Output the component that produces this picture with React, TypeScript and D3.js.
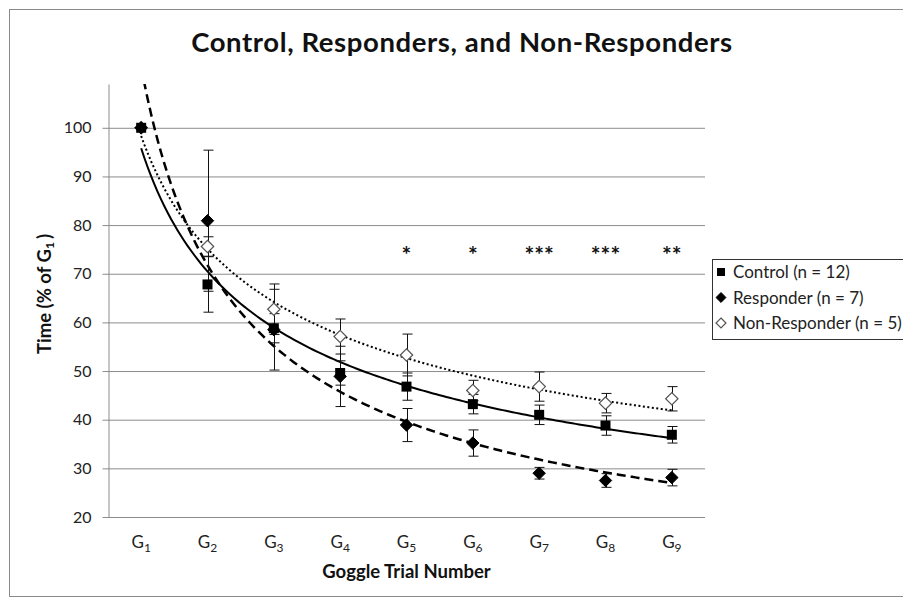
import React, { useEffect, useRef } from 'react';
import * as d3 from 'd3';

// goggle trials G1..G9
const trials = ['1', '2', '3', '4', '5', '6', '7', '8', '9'];
const controlMean = [100, 67.8, 58.8, 49.6, 46.8, 43.2, 41.0, 38.8, 36.9];
const controlErr = [0, 5.7, 3.0, 2.5, 2.8, 2.0, 2.0, 2.0, 1.7];
const responderMean = [100, 80.9, 58.5, 48.9, 38.9, 35.2, 29.0, 27.5, 28.1];
const responderErr = [0, 14.5, 8.3, 6.2, 3.4, 2.7, 1.2, 1.4, 1.7];
const nonResponderMean = [100, 75.6, 62.7, 57.1, 53.3, 46.0, 46.8, 43.4, 44.3];
const nonResponderErr = [0, 2.0, 5.2, 3.6, 4.3, 2.1, 3.0, 2.0, 2.5];
const significance = ['', '', '', '', '*', '*', '***', '***', '**'];
const starLevel = 75;
const yTicks = [20, 30, 40, 50, 60, 70, 80, 90, 100];
const legendLabels = ['Control (n = 12)', 'Responder (n = 7)', 'Non-Responder (n = 5)'];

const FONT = 'Lato, "Open Sans", sans-serif';

// Excel style power trendline: y = a * x^b, least squares on logs
function powerFit(ys: number[]) {
  const xs = ys.map((_, i) => Math.log(i + 1));
  const ls = ys.map((v) => Math.log(v));
  const mx = d3.mean(xs) as number;
  const my = d3.mean(ls) as number;
  const sxy = d3.sum(xs, (x, i) => (x - mx) * (ls[i] - my));
  const sxx = d3.sum(xs, (x) => (x - mx) * (x - mx));
  const b = sxy / sxx;
  const a = Math.exp(my - b * mx);
  return (x: number) => a * Math.pow(x, b);
}

export default function App() {
  const svgRef = useRef<SVGSVGElement>(null);

  useEffect(() => {
    const W = 903;
    const H = 598;
    const left = 108, right = 705, top = 84, bottom = 517;
    const svg = d3.select(svgRef.current);
    svg.selectAll('*').remove();

    svg.append('rect')
      .attr('x', 9.5).attr('y', 9.5)
      .attr('width', 920).attr('height', 587)
      .attr('fill', 'white').attr('stroke', '#8a8a8a');

    const x = d3.scaleLinear().domain([0.5, trials.length + 0.5]).range([left, right]);
    const y = d3.scaleLinear().domain([20, 109]).range([bottom, top]);

    // grid
    svg.append('g').selectAll('line')
      .data(yTicks.filter((t) => t > 20))
      .join('line')
      .attr('x1', left).attr('x2', right)
      .attr('y1', (d) => y(d) + 0.5).attr('y2', (d) => y(d) + 0.5)
      .attr('stroke', '#8c8c8c').attr('stroke-width', 1);

    const yAxis = d3.axisLeft(y).tickValues(yTicks).tickSize(6).tickSizeOuter(0).tickPadding(11);
    const gy = svg.append('g').attr('transform', `translate(${left + 0.5},0)`).call(yAxis);
    gy.select('.domain').attr('stroke', '#8c8c8c');
    gy.selectAll('.tick line').attr('stroke', '#8c8c8c');
    gy.selectAll('.tick text')
      .attr('font-family', FONT).attr('font-size', 16).attr('fill', '#222');

    svg.append('line')
      .attr('x1', left).attr('x2', right)
      .attr('y1', bottom + 0.5).attr('y2', bottom + 0.5)
      .attr('stroke', '#8c8c8c');

    // x tick labels with subscripts
    const xl = svg.append('g').attr('font-family', FONT).attr('fill', '#222');
    trials.forEach((t, i) => {
      const tx = xl.append('text')
        .attr('x', x(i + 1)).attr('y', 548)
        .attr('text-anchor', 'middle').attr('font-size', 17);
      tx.append('tspan').text('G');
      tx.append('tspan').attr('font-size', 12).attr('dy', 4).text(t);
    });

    svg.append('text')
      .attr('x', (left + right) / 2).attr('y', 578)
      .attr('text-anchor', 'middle')
      .attr('font-family', FONT).attr('font-weight', 'bold').attr('font-size', 18.5)
      .attr('fill', '#111')
      .text('Goggle Trial Number');

    const yt = svg.append('text')
      .attr('transform', 'translate(51,294) rotate(-90)')
      .attr('text-anchor', 'middle')
      .attr('font-family', FONT).attr('font-weight', 'bold').attr('font-size', 18.5)
      .attr('fill', '#111');
    yt.append('tspan').text('Time (% of G');
    yt.append('tspan').attr('font-size', 12).attr('dy', 3).text('1');
    yt.append('tspan').attr('dx', 3).attr('dy', -3).text(')');

    svg.append('text')
      .attr('x', 462).attr('y', 52)
      .attr('text-anchor', 'middle')
      .attr('font-family', FONT).attr('font-weight', 'bold').attr('font-size', 27.5)
      .attr('letter-spacing', 0.6)
      .attr('fill', '#111')
      .text('Control, Responders, and Non-Responders');

    // significance stars
    svg.append('g').selectAll('text')
      .data(significance)
      .join('text')
      .attr('x', (_, i) => x(i + 1)).attr('y', y(starLevel) + 14)
      .attr('text-anchor', 'middle')
      .attr('font-family', FONT).attr('font-weight', 'bold').attr('font-size', 23)
      .attr('fill', '#111')
      .text((d) => d);

    const series = [
      { mean: controlMean, err: controlErr, marker: 'square', dash: null, width: 2 },
      { mean: responderMean, err: responderErr, marker: 'diamond', dash: '9,5', width: 2.5 },
      { mean: nonResponderMean, err: nonResponderErr, marker: 'open', dash: '2,2.5', width: 2 },
    ];

    svg.append('defs').append('clipPath').attr('id', 'plotclip')
      .append('rect').attr('x', left).attr('y', top).attr('width', right - left).attr('height', bottom - top);

    // trendlines
    const line = d3.line<number>().x((d) => x(d[0])).y((d) => y(d[1]));
    const trend = svg.append('g').attr('clip-path', 'url(#plotclip)');
    series.forEach((s) => {
      const f = powerFit(s.mean);
      const pts = d3.range(1, trials.length + 0.0001, 0.05).map((v) => [v, f(v)]);
      trend.append('path')
        .attr('d', line(pts as any))
        .attr('fill', 'none').attr('stroke', '#000')
        .attr('stroke-width', s.width)
        .attr('stroke-dasharray', s.dash);
    });

    // error bars
    series.forEach((s) => {
      const g = svg.append('g').attr('stroke', '#111').attr('stroke-width', 1);
      s.mean.forEach((m, i) => {
        if (!s.err[i]) return;
        const cx = Math.round(x(i + 1)) + 0.5;
        const y1 = y(m + s.err[i]);
        const y2 = y(m - s.err[i]);
        g.append('line').attr('x1', cx).attr('x2', cx).attr('y1', y1).attr('y2', y2);
        g.append('line').attr('x1', cx - 5).attr('x2', cx + 5).attr('y1', y1).attr('y2', y1);
        g.append('line').attr('x1', cx - 5).attr('x2', cx + 5).attr('y1', y2).attr('y2', y2);
      });
    });

    const drawMarker = (g: any, kind: string, cx: number, cy: number, sz: number) => {
      if (kind === 'square') {
        g.append('rect')
          .attr('x', cx - sz / 2).attr('y', cy - sz / 2)
          .attr('width', sz).attr('height', sz).attr('fill', '#000');
      } else {
        const r = sz * 0.62;
        g.append('path')
          .attr('d', `M${cx},${cy - r}L${cx + r},${cy}L${cx},${cy + r}L${cx - r},${cy}Z`)
          .attr('fill', kind === 'open' ? '#fff' : '#000')
          .attr('stroke', kind === 'open' ? '#555' : '#000')
          .attr('stroke-width', kind === 'open' ? 1.2 : 1);
      }
    };

    // markers, drawn back to front so the control squares sit on top at G1
    [series[2], series[1], series[0]].forEach((s) => {
      const g = svg.append('g');
      s.mean.forEach((m, i) => drawMarker(g, s.marker, x(i + 1), y(m), 10));
    });

    // legend
    const lg = svg.append('g').attr('transform', 'translate(712,259)');
    lg.append('rect').attr('x', 0.5).attr('y', 0.5).attr('width', 260).attr('height', 80)
      .attr('fill', '#fff').attr('stroke', '#333');
    series.forEach((s, i) => {
      const cy = 13 + i * 25.5;
      drawMarker(lg, s.marker, 9, cy, 8);
      lg.append('text')
        .attr('x', 21).attr('y', cy + 6)
        .attr('font-family', FONT).attr('font-size', 17).attr('fill', '#222')
        .text(legendLabels[i]);
    });

    svg.attr('width', W).attr('height', H);
  }, []);

  return (
    <svg
      ref={svgRef}
      width={903}
      height={598}
      style={{ position: 'absolute', left: 0, top: 0, background: '#fff' }}
    />
  );
}
